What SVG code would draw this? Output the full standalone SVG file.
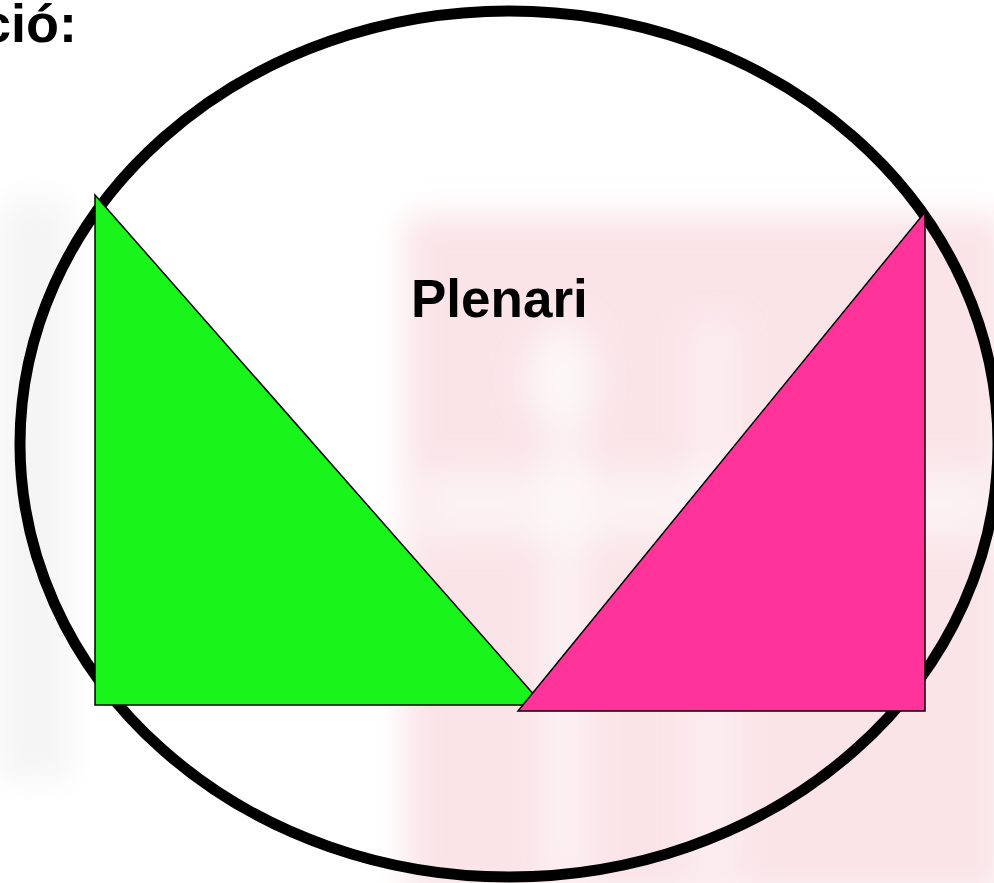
<svg xmlns="http://www.w3.org/2000/svg" width="994" height="883" viewBox="0 0 994 883">
  <style>
    .lbl { font-family: "Liberation Sans", Arial, sans-serif; font-weight: bold; fill: #000; }
    .tri { stroke: #000; stroke-width: 1.5; stroke-linejoin: miter; }
  </style>
  <defs>
    <filter id="blur" x="-20%" y="-20%" width="140%" height="140%">
      <feGaussianBlur stdDeviation="16"/>
    </filter>
  </defs>
  <rect width="994" height="883" fill="#ffffff"/>
  <g id="watermark" filter="url(#blur)">
    <rect x="0" y="200" width="70" height="580" fill="#efefef" opacity="0.6"/>
    <rect x="405" y="215" width="600" height="680" fill="#f8d6dc" opacity="0.65"/>
    <rect x="420" y="470" width="570" height="70" fill="#ffffff" opacity="0.5"/>
    <rect x="540" y="320" width="50" height="560" fill="#ffffff" opacity="0.45"/>
    <rect x="690" y="320" width="50" height="560" fill="#ffffff" opacity="0.35"/>
    <circle cx="560" cy="380" r="40" fill="#ffffff" opacity="0.5"/>
  </g>
  <g id="ellipse">
    <ellipse cx="509" cy="444" rx="489" ry="433" fill="none" stroke="#000" stroke-width="11"/>
  </g>
  <g id="green-triangle">
    <polygon class="tri" points="95,195 95,705 543,705" fill="#19f51b"/>
  </g>
  <g id="pink-triangle">
    <polygon class="tri" points="925,212 925,711 518,711" fill="#ff3399"/>
  </g>
  <g id="title">
    <text class="lbl" x="77" y="42" font-size="54" text-anchor="end">ció:</text>
  </g>
  <g id="label-plenari">
    <text class="lbl" x="411" y="317" font-size="53">Plenari</text>
  </g>
  <g id="connectors"></g>
</svg>
